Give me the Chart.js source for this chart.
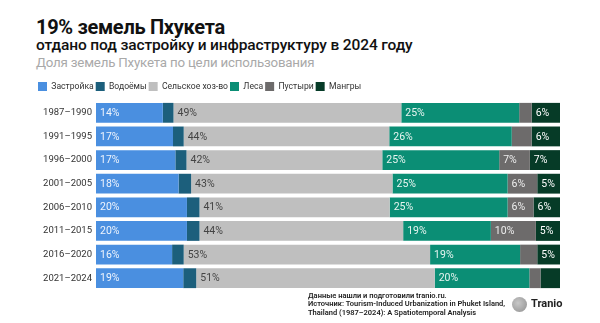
<!DOCTYPE html>
<html>
<head>
<meta charset="utf-8">
<script src="https://cdn.jsdelivr.net/npm/chart.js@4"></script>
<style>
  html, body { margin: 0; padding: 0; background: #fff; }
  body { width: 600px; height: 323px; position: relative; overflow: hidden; font-family: Roboto, "Noto Sans", sans-serif; }
  .t1 { position: absolute; left: 36px; top: 15px; font: 700 20px Roboto, sans-serif; letter-spacing: -0.3px; color: #111; white-space: nowrap; }
  .t2 { position: absolute; left: 36px; top: 36px; font: 500 15.5px Roboto, sans-serif; letter-spacing: -0.12px; color: #111; white-space: nowrap; }
  .t3 { position: absolute; left: 36px; top: 55px; font: 400 13.3px Roboto, sans-serif; letter-spacing: -0.2px; color: #a9a9a9; white-space: nowrap; }
  #c { position: absolute; left: 20px; top: 80px; }
  .foot { position: absolute; left: 308px; top: 292px; font: 600 7.5px Roboto, sans-serif; color: #222; line-height: 8.3px; white-space: nowrap; }
  .logo { position: absolute; left: 512px; top: 297px; width: 15px; height: 15px; border-radius: 50%; background: radial-gradient(circle at 40% 40%, #c8c8c8, #8f8f8f); }
  .brand { position: absolute; left: 531px; top: 297px; font: 700 11px Roboto, sans-serif; color: #222; }
</style>
</head>
<body>
<div class="t1">19% земель Пхукета</div>
<div class="t2">отдано под застройку и инфраструктуру в 2024 году</div>
<div class="t3">Доля земель Пхукета по цели использования</div>
<canvas id="c" width="542" height="212"></canvas>
<div class="foot">Данные нашли и подготовили tranio.ru.<br>Источник: Tourism-Induced Urbanization in Phuket Island,<br>Thailand (1987–2024): A Spatiotemporal Analysis</div>
<div class="logo"></div>
<div class="brand">Tranio</div>
<script>
const periods = ["1987–1990", "1991–1995", "1996–2000", "2001–2005", "2006–2010", "2011–2015", "2016–2020", "2021–2024"];
const seriesNames = ["Застройка", "Водоёмы", "Сельское хоз-во", "Леса", "Пустыри", "Мангры"];
const built      = [14.4, 16.6, 17.1, 17.8, 19.6, 19.6, 16.4, 18.8];
const water      = [2.3, 2.3, 2.4, 2.7, 2.7, 2.7, 2.5, 2.8];
const agriculture= [49.1, 44.3, 42.2, 43.4, 41.0, 43.9, 53.1, 51.4];
const forest     = [25.4, 26.4, 25.2, 24.8, 25.4, 18.9, 19.4, 20.4];
const wasteland  = [2.7, 4.3, 6.6, 6.4, 5.6, 9.7, 3.7, 2.4];
const mangroves  = [6.1, 6.1, 6.5, 4.9, 5.7, 5.2, 4.9, 4.2];

const colors = ["#4a8fe0", "#1c5f7c", "#bfbfbf", "#0b8e75", "#6d6b6b", "#063b27"];
const labelColors = ["#eef4fd", "#ffffff", "#444444", "#e8f5f1", "#eeeeee", "#ffffff"];
const values = [built, water, agriculture, forest, wasteland, mangroves];

const labelPlugin = {
  id: 'segLabels',
  afterDatasetsDraw(chart) {
    const ctx = chart.ctx;
    ctx.save();
    ctx.font = '400 10.5px Roboto, sans-serif';
    ctx.textBaseline = 'middle';
    ctx.textAlign = 'left';
    chart.data.datasets.forEach((ds, i) => {
      const meta = chart.getDatasetMeta(i);
      meta.data.forEach((bar, j) => {
        const v = ds.data[j];
        if (v < 4.5) return;
        const left = Math.min(bar.x, bar.base);
        ctx.fillStyle = labelColors[i];
        ctx.fillText(Math.round(v) + '%', left + 4, bar.y + 0.5);
      });
    });
    ctx.restore();
  }
};

new Chart(document.getElementById('c'), {
  type: 'bar',
  data: {
    labels: periods,
    datasets: seriesNames.map((n, i) => ({
      label: n,
      data: values[i],
      backgroundColor: colors[i],
      borderWidth: 0,
      barPercentage: 0.84,
      categoryPercentage: 1.0
    }))
  },
  options: {
    indexAxis: 'y',
    responsive: false,
    animation: false,
    layout: { padding: { left: 16, right: 2, bottom: 2, top: 0 } },
    scales: {
      x: { stacked: true, min: 0, max: 100, display: false },
      y: {
        stacked: true,
        grid: { display: false, drawTicks: false },
        border: { display: false },
        ticks: { padding: 4, color: '#333', font: { family: 'Roboto', size: 9.5 } },
        afterFit(s) { s.width = 60; s.paddingTop = 0; s.paddingBottom = 0; }
      }
    },
    plugins: {
      legend: {
        position: 'top',
        align: 'start',
        labels: {
          boxWidth: 9, boxHeight: 9, padding: 2,
          color: '#333',
          font: { family: 'Roboto', size: 8.6 }
        }
      },
      tooltip: { enabled: false }
    }
  },
  plugins: [labelPlugin]
});
</script>
</body>
</html>
